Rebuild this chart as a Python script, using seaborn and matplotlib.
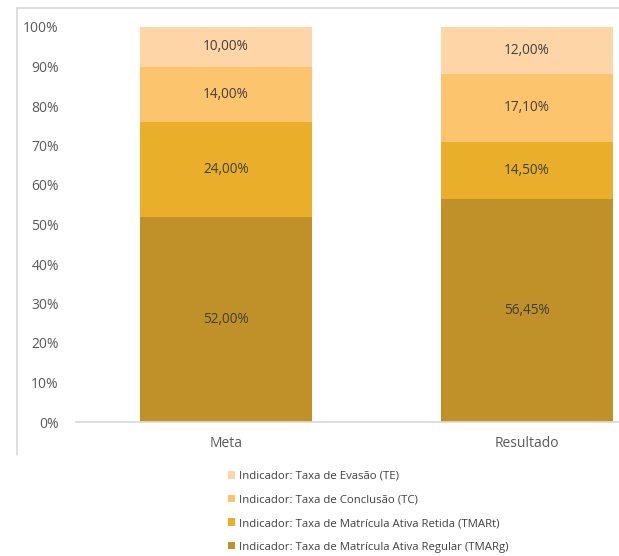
import matplotlib
matplotlib.use("Agg")
import matplotlib.pyplot as plt
import seaborn as sns
import pandas as pd
import numpy as np
from matplotlib.patches import Patch
from matplotlib.lines import Line2D

categories = ["Meta", "Resultado"]
series_names = [
    "Indicador: Taxa de Matrícula Ativa Regular (TMARg)",
    "Indicador: Taxa de Matrícula Ativa Retida (TMARt)",
    "Indicador: Taxa de Conclusão (TC)",
    "Indicador: Taxa de Evasão (TE)",
]
tmarg = [52.00, 56.45]
tmart = [24.00, 14.50]
tc = [14.00, 17.10]
te = [10.00, 12.00]
colors = ["#C09128", "#EAAF2A", "#FDC46E", "#FDD5A6"]

sns.set_theme(style="white")
plt.rcParams['font.family'] = ['Open Sans', 'DejaVu Sans']

fig = plt.figure(figsize=(6.19, 5.56), dpi=100)
ax = fig.add_axes([75.5/619, (556-422)/556, 602/619, 395/556])

layers = [tmarg, tmart, tc, te]
cum = np.cumsum(np.array(layers), axis=0)
# draw from top cumulative down so lower segments overlay
for i in range(len(layers)-1, -1, -1):
    df = pd.DataFrame({"cat": categories, "val": cum[i]})
    sns.barplot(data=df, x="cat", y="val", color=colors[i], width=0.57,
                saturation=1, ax=ax, zorder=2, linewidth=0, edgecolor="none")

for i, layer in enumerate(layers):
    bottoms = cum[i] - np.array(layer)
    for j, v in enumerate(layer):
        ax.text(j, bottoms[j] + v/2, f"{v:.2f}".replace(".", ",") + "%",
                ha="center", va="center", fontsize=9.8, color="#404040", zorder=3)

ax.set_xlim(-0.5, 1.5)
ax.set_ylim(0, 100)
ax.set_yticks(np.arange(0, 101, 10))
ax.set_yticklabels([f"{t}%" for t in range(0, 101, 10)])
ax.set_xlabel("")
ax.set_ylabel("")
for s in ["top", "right", "left"]:
    ax.spines[s].set_visible(False)
ax.spines["bottom"].set_color("#D9D9D9")
ax.tick_params(axis="y", length=0, pad=12, labelsize=10, labelcolor="#595959")
ax.tick_params(axis="x", length=0, pad=10, labelsize=10, labelcolor="#595959")

handles = [Patch(facecolor=colors[i], edgecolor="none") for i in [3, 2, 1, 0]]
labels = [series_names[i] for i in [3, 2, 1, 0]]
fig.legend(handles, labels, loc="upper left", bbox_to_anchor=(228/619, 1-471/556),
           frameon=False, fontsize=8.2, handlelength=0.6, handleheight=0.6,
           handletextpad=0.4, labelspacing=1.1, labelcolor="#404040",
           borderaxespad=0, borderpad=0)

# outer frame lines
fig.add_artist(Line2D([17/619, 1], [1-8/556, 1-8/556], color="#D9D9D9", lw=1.2,
                      transform=fig.transFigure))
fig.add_artist(Line2D([17/619, 17/619], [1-8/556, 1-455/556], color="#D9D9D9", lw=1.2,
                      transform=fig.transFigure))

fig.savefig("out.png", dpi=100)
